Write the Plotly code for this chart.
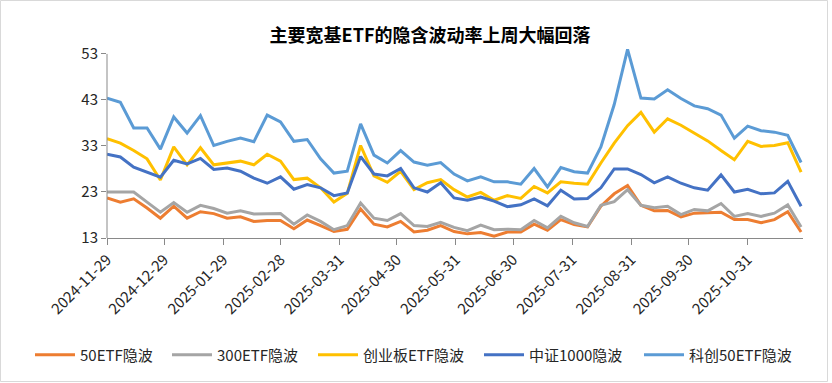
import plotly.graph_objects as go
import pandas as pd

# ---- data ----
dates = pd.date_range("2024-11-29", "2025-11-28", freq="7D").strftime("%Y-%m-%d").tolist()

series_names = ["50ETF隐波", "300ETF隐波", "创业板ETF隐波", "中证1000隐波", "科创50ETF隐波"]

etf50 = [21.7, 20.8, 21.5, 19.5, 17.3, 19.9, 17.3, 18.7, 18.3, 17.3,
         17.6, 16.6, 16.8, 16.8, 15.0, 16.9, 15.7, 14.4, 14.9, 19.3,
         16.0, 15.4, 16.6, 14.3, 14.7, 15.7, 14.4, 13.9, 14.2, 13.4,
         14.3, 14.3, 16.0, 14.7, 17.0, 15.9, 15.4, 19.9, 22.6, 24.4,
         20.1, 18.9, 19.0, 17.6, 18.4, 18.5, 18.6, 17.0, 17.0, 16.3,
         17.0, 18.7, 14.3]

etf300 = [23.0, 23.0, 23.0, 20.8, 18.6, 20.7, 18.6, 20.1, 19.4, 18.4,
          18.9, 18.2, 18.2, 18.3, 16.0, 18.0, 16.6, 14.8, 15.7, 20.6,
          17.3, 16.8, 18.3, 15.7, 15.5, 16.4, 15.3, 14.6, 15.8, 14.8,
          14.9, 14.8, 16.8, 15.2, 17.7, 16.3, 15.5, 20.1, 20.9, 23.5,
          20.1, 19.6, 19.9, 18.1, 19.2, 18.9, 20.5, 17.7, 18.3, 17.7,
          18.4, 20.2, 15.4]

cyb = [34.6, 33.6, 32.0, 30.2, 25.6, 32.8, 28.9, 32.6, 28.9, 29.3,
       29.7, 28.9, 31.2, 29.7, 25.7, 26.0, 23.9, 20.8, 22.7, 33.1,
       26.5, 25.1, 27.5, 23.5, 25.0, 25.7, 23.5, 21.9, 22.9, 21.2,
       22.2, 21.6, 24.2, 22.8, 25.2, 24.9, 24.7, 29.3, 33.6, 37.4,
       40.3, 36.0, 38.9, 37.5, 35.8, 34.1, 32.0, 30.0, 34.0, 32.9,
       33.1, 33.7, 27.3]

zz1000 = [31.2, 30.6, 28.4, 27.3, 26.2, 29.9, 29.1, 30.3, 27.9, 28.2,
          27.5, 26.0, 24.9, 26.3, 23.6, 24.6, 23.9, 22.2, 22.8, 30.7,
          26.9, 26.5, 28.1, 23.9, 23.0, 25.0, 21.7, 21.2, 21.9, 21.0,
          19.8, 20.2, 21.5, 20.0, 23.4, 21.5, 21.6, 23.9, 28.0, 28.0,
          26.8, 25.0, 26.3, 24.9, 23.9, 23.4, 26.7, 23.0, 23.6, 22.6,
          22.8, 25.3, 19.9]

kc50 = [43.4, 42.5, 36.9, 36.9, 32.3, 39.3, 35.8, 39.6, 33.1, 34.0,
        34.7, 33.9, 39.7, 38.2, 34.0, 34.4, 30.2, 27.1, 27.5, 37.8,
        31.0, 29.3, 32.0, 29.5, 28.8, 29.4, 26.9, 25.4, 26.3, 25.2,
        25.2, 24.7, 28.1, 24.1, 28.3, 27.4, 27.1, 32.8, 42.0, 54.0,
        43.4, 43.2, 45.2, 43.3, 41.7, 41.1, 39.7, 34.7, 37.3, 36.3,
        36.0, 35.3, 29.4]

tick_dates = ["2024-11-29", "2024-12-29", "2025-01-29", "2025-02-28", "2025-03-31",
              "2025-04-30", "2025-05-31", "2025-06-30", "2025-07-31", "2025-08-31",
              "2025-09-30", "2025-10-31"]
y_ticks = [13, 23, 33, 43, 53]

colors = ["#ED7D31", "#A5A5A5", "#FFC000", "#4472C4", "#5B9BD5"]
all_series = [etf50, etf300, cyb, zz1000, kc50]
legend_ids = ["legend", "legend2", "legend3", "legend4", "legend5"]
legend_left_px = [30, 167, 313, 479, 639]

FONT = "Noto Sans CJK SC"

fig = go.Figure()
for name, vals, col, lid in zip(series_names, all_series, colors, legend_ids):
    fig.add_trace(go.Scatter(x=dates, y=vals, mode="lines", name=name,
                             legend=lid, line=dict(color=col, width=3)))

W, H = 832, 383
ml, mr, mt, mb = 107, 29, 47, 145
pw, ph = W - ml - mr, H - mt - mb

def px_x(p):
    return (p - ml) / pw

def px_y(p):
    return (H - mb - p) / ph

legend_style = dict(orientation="h", xref="container", yref="container",
                    xanchor="left", y=1 - 355 / H, yanchor="middle",
                    font=dict(family=FONT, size=15, color="#262626"),
                    itemwidth=40, bgcolor="rgba(0,0,0,0)")

layout_legends = {}
for lid, lx in zip(legend_ids, legend_left_px):
    layout_legends[lid] = dict(legend_style, x=lx / W)

fig.update_layout(
    width=W, height=H,
    margin=dict(l=ml, r=mr, t=mt, b=mb, autoexpand=False),
    paper_bgcolor="white", plot_bgcolor="white",
    font=dict(family=FONT, size=15, color="#262626"),
    title=dict(text="主要宽基ETF的隐含波动率上周大幅回落",
               font=dict(family=FONT, size=18, color="#000000", weight="bold"),
               x=430 / W, xref="container", xanchor="center",
               y=1 - 36 / H, yref="container", yanchor="middle"),
    showlegend=True,
    xaxis=dict(type="date", range=["2024-11-29", "2025-11-29"],
               tickvals=tick_dates, ticktext=tick_dates, tickangle=-45,
               showgrid=False, zeroline=False, automargin=False,
               showline=True, linecolor="#898989", linewidth=1,
               ticks="outside", ticklen=6, tickcolor="#898989",
               tickfont=dict(family=FONT, size=15, color="#262626")),
    yaxis=dict(range=[13, 54.5], tickvals=y_ticks, ticktext=[str(v) for v in y_ticks],
               showgrid=False, zeroline=False, showline=False, automargin=False,
               ticks="outside", ticklen=5, tickcolor="#898989",
               tickfont=dict(family=FONT, size=15, color="#262626")),
    shapes=[
        dict(type="line", xref="paper", yref="y", x0=0, x1=0, y0=13, y1=53,
             line=dict(color="#898989", width=1)),
        dict(type="rect", xref="paper", yref="paper",
             x0=px_x(0.5), x1=px_x(827.5), y0=px_y(381.5), y1=px_y(0.5),
             line=dict(color="#D9D9D9", width=1), fillcolor="rgba(0,0,0,0)",
             layer="below"),
    ],
    **layout_legends,
)

fig.write_html("out.html", config={"displayModeBar": False},
               post_script="document.body.style.margin='0';")
